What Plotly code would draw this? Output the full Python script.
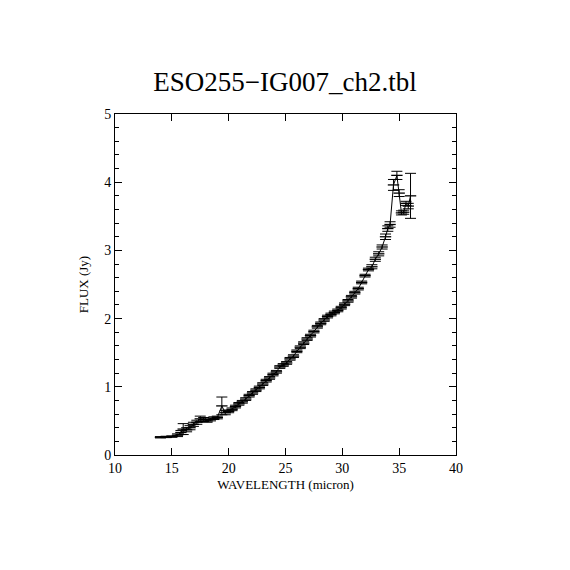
import plotly.graph_objects as go

wavelength = [14.0, 14.5, 15.0, 15.5, 15.8, 16.0, 16.3, 16.6, 16.9, 17.2, 17.5, 17.8,
              18.1, 18.4, 18.7, 19.0, 19.4, 19.7, 20.0, 20.3, 20.6, 20.9, 21.2, 21.5,
              21.8, 22.1, 22.4, 22.7, 23.0, 23.3, 23.6, 23.9, 24.2, 24.5, 24.8, 25.1,
              25.4, 25.7, 26.0, 26.3, 26.6, 26.9, 27.2, 27.5, 27.8, 28.1, 28.4, 28.7,
              29.0, 29.3, 29.6, 29.9, 30.2, 30.5, 30.8, 31.1, 31.4, 31.7, 32.0, 32.3,
              32.6, 32.9, 33.2, 33.5, 33.8, 34.0, 34.2, 34.5, 34.8, 35.0, 35.2, 35.4,
              35.6, 35.8, 36.0]
flux = [0.26, 0.265, 0.27, 0.29, 0.33, 0.38, 0.37, 0.40, 0.45, 0.48, 0.53, 0.52,
        0.50, 0.52, 0.54, 0.55, 0.72, 0.62, 0.64, 0.67, 0.71, 0.75, 0.78, 0.82,
        0.87, 0.91, 0.95, 0.99, 1.04, 1.09, 1.13, 1.18, 1.22, 1.29, 1.32, 1.35,
        1.41, 1.45, 1.52, 1.58, 1.64, 1.70, 1.75, 1.81, 1.88, 1.93, 1.98, 2.03,
        2.06, 2.09, 2.12, 2.16, 2.21, 2.26, 2.32, 2.38, 2.44, 2.53, 2.63, 2.72,
        2.76, 2.87, 2.95, 3.05, 3.20, 3.32, 3.38, 3.96, 4.10, 3.84, 3.55, 3.56,
        3.69, 3.65, 3.80]
flux_err = [0.01, 0.01, 0.01, 0.02, 0.03, 0.08, 0.03, 0.03, 0.03, 0.03, 0.04, 0.03,
            0.02, 0.02, 0.02, 0.02, 0.13, 0.03, 0.02, 0.02, 0.02, 0.02, 0.02, 0.02,
            0.02, 0.02, 0.02, 0.02, 0.02, 0.02, 0.02, 0.02, 0.02, 0.02, 0.02, 0.02,
            0.02, 0.02, 0.02, 0.02, 0.02, 0.02, 0.02, 0.02, 0.02, 0.02, 0.02, 0.02,
            0.02, 0.02, 0.02, 0.02, 0.02, 0.02, 0.02, 0.02, 0.02, 0.02, 0.02, 0.02,
            0.03, 0.03, 0.03, 0.03, 0.04, 0.04, 0.04, 0.08, 0.06, 0.05, 0.03, 0.03,
            0.03, 0.04, 0.33]
bin_halfwidth = [0.5] * len(wavelength)

serif = "Liberation Serif, DejaVu Serif, serif"

fig = go.Figure()
fig.add_trace(go.Scatter(
    x=wavelength, y=flux, mode="lines",
    line=dict(color="black", width=1),
    error_x=dict(type="data", array=bin_halfwidth, visible=True,
                 color="black", thickness=1.3, width=0),
    error_y=dict(type="data", array=flux_err, visible=True,
                 color="black", thickness=1, width=5.5),
    showlegend=False,
))

axis_common = dict(
    showgrid=False, zeroline=False, showline=True, linecolor="black", linewidth=1,
    mirror="ticks", ticks="inside", tickcolor="black", tickwidth=1,
    tickfont=dict(family=serif, size=14, color="black"),
)

fig.update_layout(
    width=570, height=570,
    margin=dict(l=107, r=122, t=106, b=123),
    paper_bgcolor="white", plot_bgcolor="white",
    title=dict(text="ESO255\u2212IG007_ch2.tbl", x=(285 - 8) / 570, xanchor="center",
               y=1 - 74 / 570, yanchor="middle",
               font=dict(family=serif, size=27, color="black")),
    xaxis=dict(range=[10, 40], dtick=5, ticklen=7,
               title=dict(text="WAVELENGTH (micron)", standoff=5,
                          font=dict(family=serif, size=13, color="black")),
               **axis_common),
    yaxis=dict(range=[0, 5], dtick=1, ticklen=7,
               minor=dict(dtick=0.2, ticks="inside", ticklen=4, tickcolor="black"),
               title=dict(text="FLUX (Jy)", standoff=12,
                          font=dict(family=serif, size=13, color="black")),
               **axis_common),
)

fig.write_html("out.html")
